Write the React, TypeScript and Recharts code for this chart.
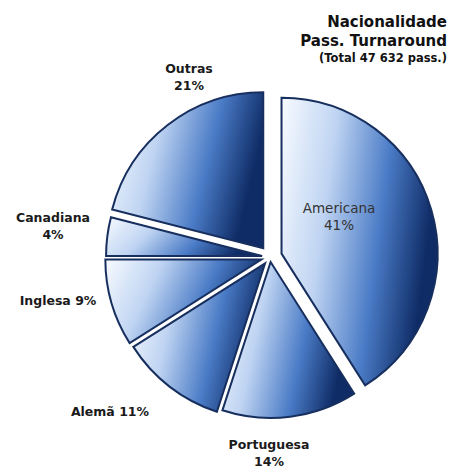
import { PieChart, Pie, Sector } from "recharts";

const nacionalidades = ["Americana", "Portuguesa", "Alemã", "Inglesa", "Canadiana", "Outras"];
const percentagens = [41, 14, 11, 9, 4, 21];

const data = nacionalidades.map((name, i) => ({ name, value: percentagens[i] }));

// how far each slice is pulled out from the centre (px)
const explode: Record<string, number> = {
  Americana: 12,
  Portuguesa: 5,
  Alemã: 8,
  Inglesa: 9,
  Canadiana: 8,
  Outras: 11,
};

// label placement relative to the pie centre (baseline of first line)
const labelPos: Record<string, { dx: number; dy: number; inline: boolean; inside?: boolean }> = {
  Americana: { dx: 69, dy: -44, inline: false, inside: true },
  Portuguesa: { dx: -1, dy: 192, inline: false },
  Alemã: { dx: -160, dy: 159, inline: true },
  Inglesa: { dx: -212, dy: 48, inline: true },
  Canadiana: { dx: -217, dy: -35, inline: false },
  Outras: { dx: -81, dy: -184, inline: false },
};

const RAD = Math.PI / 180;
const FONT = "'DejaVu Sans', Verdana, sans-serif";

function ExplodedSector(props: any) {
  const { cx, cy, midAngle } = props;
  const name = props.name ?? props.payload?.name;
  const d = explode[name] ?? 0;
  const ox = Math.cos(-midAngle * RAD) * d;
  const oy = Math.sin(-midAngle * RAD) * d;
  return <Sector {...props} cx={cx + ox} cy={cy + oy} />;
}

function SliceLabel(props: any) {
  const { cx, cy, value } = props;
  const name = props.name ?? props.payload?.name;
  const pos = labelPos[name];
  if (!pos) return null;
  const x = cx + pos.dx;
  const y = cy + pos.dy;
  const style = pos.inside
    ? { fontWeight: "normal" as const, fontSize: 13.5, fill: "#333" }
    : { fontWeight: "bold" as const, fontSize: 12.5, fill: "#1a1a1a" };
  if (pos.inline) {
    return (
      <text x={x} y={y} textAnchor="middle" fontFamily={FONT} {...style}>
        {`${name} ${value}%`}
      </text>
    );
  }
  return (
    <text x={x} y={y} textAnchor="middle" fontFamily={FONT} {...style}>
      <tspan x={x} dy={0}>{name}</tspan>
      <tspan x={x} dy={17}>{`${value}%`}</tspan>
    </text>
  );
}

export default function App() {
  return (
    <div style={{ position: "absolute", left: 0, top: 0, background: "#fff" }}>
      <PieChart width={451} height={468} margin={{ top: 0, right: 0, bottom: 0, left: 0 }}>
        <defs>
          <linearGradient id="fatia" x1="0" y1="0" x2="1" y2="0.25">
            <stop offset="0%" stopColor="#f8fbff" />
            <stop offset="35%" stopColor="#bfd4f2" />
            <stop offset="70%" stopColor="#4a7bc6" />
            <stop offset="100%" stopColor="#0f2c66" />
          </linearGradient>
        </defs>
        <text x={447} y={27} textAnchor="end" fontFamily={FONT} fontWeight="bold" fontSize={15} fill="#111">
          Nacionalidade
        </text>
        <text x={447} y={46} textAnchor="end" fontFamily={FONT} fontWeight="bold" fontSize={15} fill="#111">
          Pass. Turnaround
        </text>
        <text x={447} y={62} textAnchor="end" fontFamily={FONT} fontWeight="bold" fontSize={11.5} fill="#111">
          (Total 47 632 pass.)
        </text>
        <Pie
          data={data}
          dataKey="value"
          nameKey="name"
          cx={270}
          cy={257}
          outerRadius={156}
          startAngle={90}
          endAngle={-270}
          fill="url(#fatia)"
          stroke="#172f5e"
          strokeWidth={2}
          shape={ExplodedSector}
          activeShape={ExplodedSector}
          inactiveShape={ExplodedSector}
          label={SliceLabel}
          labelLine={false}
          isAnimationActive={false}
        />
      </PieChart>
    </div>
  );
}
